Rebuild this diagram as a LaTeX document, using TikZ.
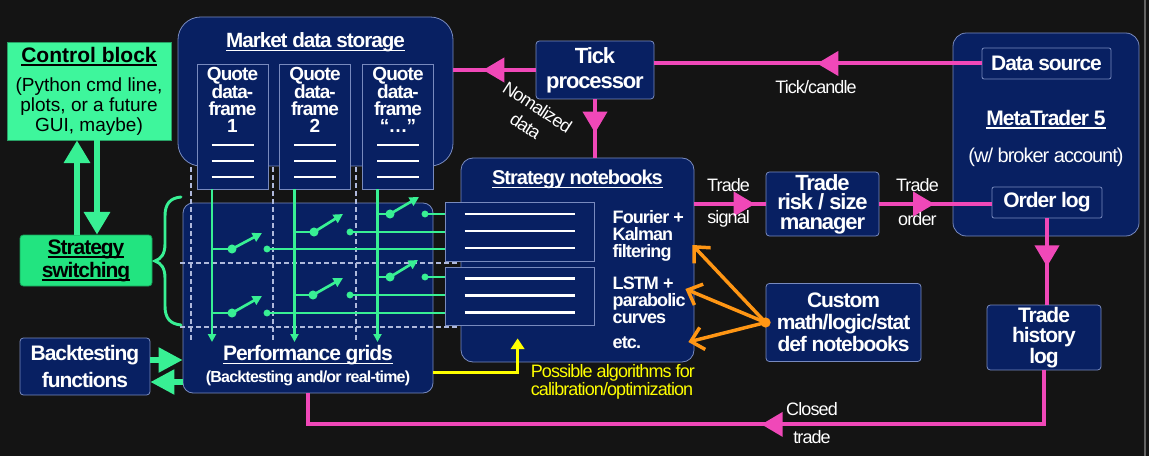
\documentclass[tikz,border=0pt]{standalone}
\usepackage{fontspec}
\setmainfont{Liberation Sans}
\newfontfamily\cnd[LetterSpace=-5]{Liberation Sans}
\usetikzlibrary{arrows.meta,calc,decorations.markings}
\definecolor{bgc}{RGB}{20,20,20}
\definecolor{navy}{RGB}{8,32,98}
\definecolor{bord}{RGB}{120,138,190}
\definecolor{mint}{RGB}{62,246,156}
\definecolor{sgrn}{RGB}{34,228,128}
\definecolor{gline}{RGB}{56,240,148}
\definecolor{mag}{RGB}{240,72,184}
\definecolor{orng}{RGB}{255,150,20}
\definecolor{yel}{RGB}{255,255,0}
\definecolor{dshc}{RGB}{175,185,220}
\definecolor{edgec}{RGB}{100,100,100}
\newcommand\myfs[2]{\fontsize{#1}{#2}\selectfont}
\newcommand\myul[1]{\setbox0\hbox{#1}\rlap{\rule[-2.6pt]{\wd0}{1.1pt}}\copy0}
\begin{document}
\begin{tikzpicture}[x=0.75pt,y=-0.75pt,
  box/.style={draw=bord, line width=0.6pt, fill=navy, text=white, inner sep=0pt, align=center},
  wh/.style 2 args={minimum width=#1*0.75pt, minimum height=#2*0.75pt},
  btxt/.style={text=white, inner sep=0pt, align=center},
  lbl/.style={text=white, inner sep=0pt, align=center, font=\cnd\myfs{13.5}{15}},
  magline/.style={color=mag, line width=3pt},
  marr/.style={postaction={decorate, decoration={markings, mark=at position #1 with {\arrow{Triangle[length=16pt,width=18pt]}}}}},
  gl/.style={draw=gline, line width=1.6pt},
  gthick/.style={draw=gline, line width=4pt, -{Triangle[length=17pt,width=19pt]}},
  gmid/.style={draw=gline, line width=4pt, -{Triangle[length=18pt,width=18pt]}},
  dsh/.style={draw=dshc, line width=1.2pt, dash pattern=on 3.5pt off 2.5pt},
  wl/.style={draw=white, line width=2.2pt},
  oarr/.style={draw=orng, line width=2.6pt, -{Straight Barb[length=9pt,width=17pt]}}
]
\useasboundingbox (0,0) rectangle (1149,456);
\fill[bgc] (0,0) rectangle (1149,456);
\draw[edgec, line width=0.9pt] (1145,0) -- (1145,456);

% Control block and strategy switching
\node[draw=mint!65!black, line width=0.6pt, fill=mint, text=black, inner sep=0pt, align=center,
      wh={164}{98}, font=\myfs{14.25}{15}] (cb) at (89,91)
  {{\myfs{15.75}{18}\bfseries\myul{Control block}}\\[6.75pt](Python cmd line,\\plots, or a future\\GUI, maybe)};
\node[draw=sgrn!70!black, line width=0.6pt, fill=sgrn, text=black, inner sep=0pt, align=center,
      rounded corners=2.5pt, wh={132}{51}, font=\cnd\bfseries\myfs{15.75}{17.25}] (ss) at (86,260.5)
  {\myul{Strategy}\\\myul{switching}};
\coordinate (ua) at ($(ss.north)+(-9,0)$);
\coordinate (da) at ($(cb.south)+(8,0)$);
\draw[gthick] (ua) -- (ua |- cb.south);
\draw[gthick] (da) -- (da |- ss.north);

% Backtesting
\node[box, rounded corners=2.5pt, wh={130}{57}, font=\cnd\bfseries\myfs{15.75}{20.25}] (bt) at (85,366.5)
  {Backtesting\\functions};

% Market data storage
\node[box, wh={275}{149}, rounded corners=17pt] (mds) at (315.5,91.5) {};
\node[btxt, font=\cnd\bfseries\myfs{15.5}{18}] (mdst) at ($(mds.north)+(0,26)$) {\myul{Market data storage}};

% Performance grids
\node[box, wh={250}{190}, rounded corners=7.5pt] (pg) at (308,298) {};
\node[btxt, font=\cnd\bfseries\myfs{15.75}{18}] (pgt) at ($(pg.south)+(0,-38)$) {\myul{Performance grids}};
\node[btxt, font=\cnd\bfseries\myfs{12}{14}] (pgs) at ($(pg.south)+(0,-15)$) {(Backtesting and/or real-time)};

% quote boxes
\foreach \n/\x/\lab in {1/232.5/1, 2/315/2, 3/398/{“…”}} {
  \node[box, wh={71}{125}] (q\n) at (\x,126.5) {};
  \node[btxt, font=\cnd\bfseries\myfs{14.25}{12.6}] at ($(q\n.north)+(0,36)$) {Quote\\data-\\frame\\\lab};
  \foreach \d in {18.5,34.5,50.5}
    \draw[wl] ($(q\n.center)+(-21,\d)$) -- ($(q\n.center)+(21,\d)$);
}

% dashed grid
\foreach \x in {191,273,356} \draw[dsh] (\x,167) -- (\x,342);
\foreach \y in {263,327} \draw[dsh] (180,\y) -- (457,\y);

% strategy notebooks
\node[box, wh={233}{204}, rounded corners=9pt] (sn) at (577.5,260) {};
\node[btxt, font=\cnd\bfseries\myfs{15}{18}] (snt) at ($(sn.north)+(0,22)$) {\myul{Strategy notebooks}};
\node[box, wh={149}{59}] (nb1) at (519.5,231.5) {};
\node[box, wh={149}{58}] (nb2) at (519.5,296) {};
\foreach \b in {nb1,nb2}
  \foreach \d in {-17.5,-0.5,16.5}
    \draw[wl] ($(\b.center)+(-55,\d)$) -- ($(\b.center)+(55,\d)$);
\node[btxt, anchor=west, align=left, font=\cnd\bfseries\myfs{13.5}{12.75}] (alg1) at ($(sn.north east)+(-82,78.5)$) {Fourier +\\Kalman\\filtering};
\node[btxt, anchor=west, align=left, font=\cnd\bfseries\myfs{13.5}{12.75}] (alg2) at ($(sn.north east)+(-82,142.5)$) {LSTM +\\parabolic\\curves};
\node[btxt, anchor=west, align=left, font=\cnd\bfseries\myfs{13.5}{12.75}] (alg3) at ($(sn.north east)+(-82,185)$) {etc.};

% green grid lines
\coordinate (gb) at (0,342);
\foreach \n in {1,2,3} {
  \coordinate (qs) at ($(q\n.south)+(-20.5,0)$);
  \draw[gl, -{Triangle[length=6pt,width=6pt]}] (qs) -- (qs |- gb);
}
\foreach \cx/\ry/\pv/\kx/\tx/\ty in {212/249/232/267/262/233, 212/313/232/267/262/296,
   294.5/232/314/350/343/214, 294.5/295/313/350/343/278, 377.5/214/390/425/419/197, 377.5/277/390/425/418/260} {
  \coordinate (k) at (\kx,\ry);
  \draw[gl] (\cx,\ry) -- (\pv,\ry);
  \draw[gline, line width=2pt, -{Triangle[length=7pt,width=7pt]}] (\pv,\ry) -- (\tx,\ty);
  \fill[gline] (\pv,\ry) circle[radius=3.4pt];
  \fill[gline] (k) circle[radius=2.6pt];
  \draw[gl] (k) -- (k -| nb1.west);
}

% brace
\draw[gline, line width=2.2pt, line cap=round]
  (181,197) .. controls (170,198) and (165,204) .. (165,216) -- (165,244)
  .. controls (165,254) and (161,259) .. (155,261)
  .. controls (161,263) and (165,268) .. (165,278) -- (165,306)
  .. controls (165,318) and (170,324) .. (181,325);

% backtesting arrows
\coordinate (b1) at ($(bt.east)+(0,-6.5)$);
\coordinate (b2) at ($(bt.east)+(0,15.5)$);
\draw[gmid] (b1) -- (b1 -| pg.west);
\draw[gmid] (b2 -| pg.west) -- (b2);

% yellow arrow
\coordinate (ys) at ($(pg.south east)+(0,-21)$);
\coordinate (yt) at ($(sn.south west)+(57,-24)$);
\draw[yel, line width=2.2pt, -{Triangle[length=8pt,width=10pt]}] (ys) -| (yt);
\node[anchor=west, align=left, text=yel, inner sep=0pt, font=\cnd\myfs{13.5}{12.4}] (poss) at ($(sn.south west)+(70,19)$)
  {Possible algorithms for\\calibration/optimization};

% tick processor
\node[box, rounded corners=2.5pt, wh={118}{58}, font=\cnd\bfseries\myfs{16.5}{18.75}] (tp) at (595,70) {Tick\\processor};
\node[lbl, rotate=-33, font=\cnd\myfs{13.5}{16.5}] (nrm) at ($(tp.south west)+(-4,17)$) {Nomalized\\data};

% trade risk manager and custom
\node[box, rounded corners=2.5pt, wh={113}{64}, font=\cnd\bfseries\myfs{16.5}{14.6}] (tr) at (822.5,204) {Trade\\risk / size\\manager};
\node[box, rounded corners=2.5pt, wh={155}{78}, font=\cnd\bfseries\myfs{15.75}{16.5}] (cu) at (843.5,322.5) {Custom\\math/logic/stat\\def notebooks};

% MetaTrader
\node[box, wh={186}{203}, rounded corners=10pt] (mt) at (1046,134.5) {};
\node[box, rounded corners=1.5pt, wh={129}{31}, font=\cnd\bfseries\myfs{15.75}{18}] (ds) at (1046.5,63.5) {Data source};
\node[btxt, font=\cnd\bfseries\myfs{15.75}{18}] (mtt) at ($(mt.north)+(0,87)$) {\myul{MetaTrader 5}};
\node[btxt, font=\cnd\myfs{15}{18}] (mts) at ($(mt.north)+(0,125)$) {(w/ broker account)};
\node[box, rounded corners=1.5pt, wh={110}{31}, font=\cnd\bfseries\myfs{15.75}{18}] (ol) at (1047,202.5) {Order log};
\node[box, rounded corners=2.5pt, wh={114}{65}, font=\cnd\bfseries\myfs{15.75}{14.6}] (th) at (1044,337.5) {Trade\\history\\log};

% magenta connectors
\draw[magline, marr=0.64] (tp.west) -- (tp.west -| mds.east);
\draw[magline, marr=0.503] (ds.west) -- (ds.west -| tp.east);
\draw[magline, marr=0.576] (tp.south) -- (tp.south |- sn.north);
\draw[magline, marr=0.85] (sn.east |- tr.west) -- (tr.west);
\draw[magline, marr=0.49] (tr.east) -- (tr.east -| ol.west);
\draw[magline, marr=0.56] (ol.south) -- (ol.south |- th.north);
\draw[magline, marr=0.41] (th.south) -- ++(0,54) -| (pg.south);

% labels
\node[lbl] (tcl) at ($(tp.east)!0.5!(ds.west)+(-2,20)$) {Tick/candle};
\node[lbl] (ts1) at ($(tr.west)+(-37,-19)$) {Trade};
\node[lbl] (ts2) at ($(tr.west)+(-37,15)$) {signal};
\node[lbl] (to1) at ($(tr.east)+(38,-19)$) {Trade};
\node[lbl] (to2) at ($(tr.east)+(38,15)$) {order};
\node[lbl] (ct1) at ($(th.south)+(-232,39)$) {Closed};
\node[lbl] (ct2) at ($(th.south)+(-232,67)$) {trade};

% orange arrows
\fill[orng] (cu.west) circle[radius=3.8pt];
\coordinate (o1) at ($(sn.east)+(-2,-15)$);
\coordinate (o2) at ($(sn.east)+(-9,29)$);
\coordinate (o3) at ($(sn.east)+(-6,82)$);
\draw[oarr] (cu.west) -- (o1);
\draw[oarr] (cu.west) -- (o2);
\draw[oarr] (cu.west) -- (o3);
\end{tikzpicture}
\end{document}
